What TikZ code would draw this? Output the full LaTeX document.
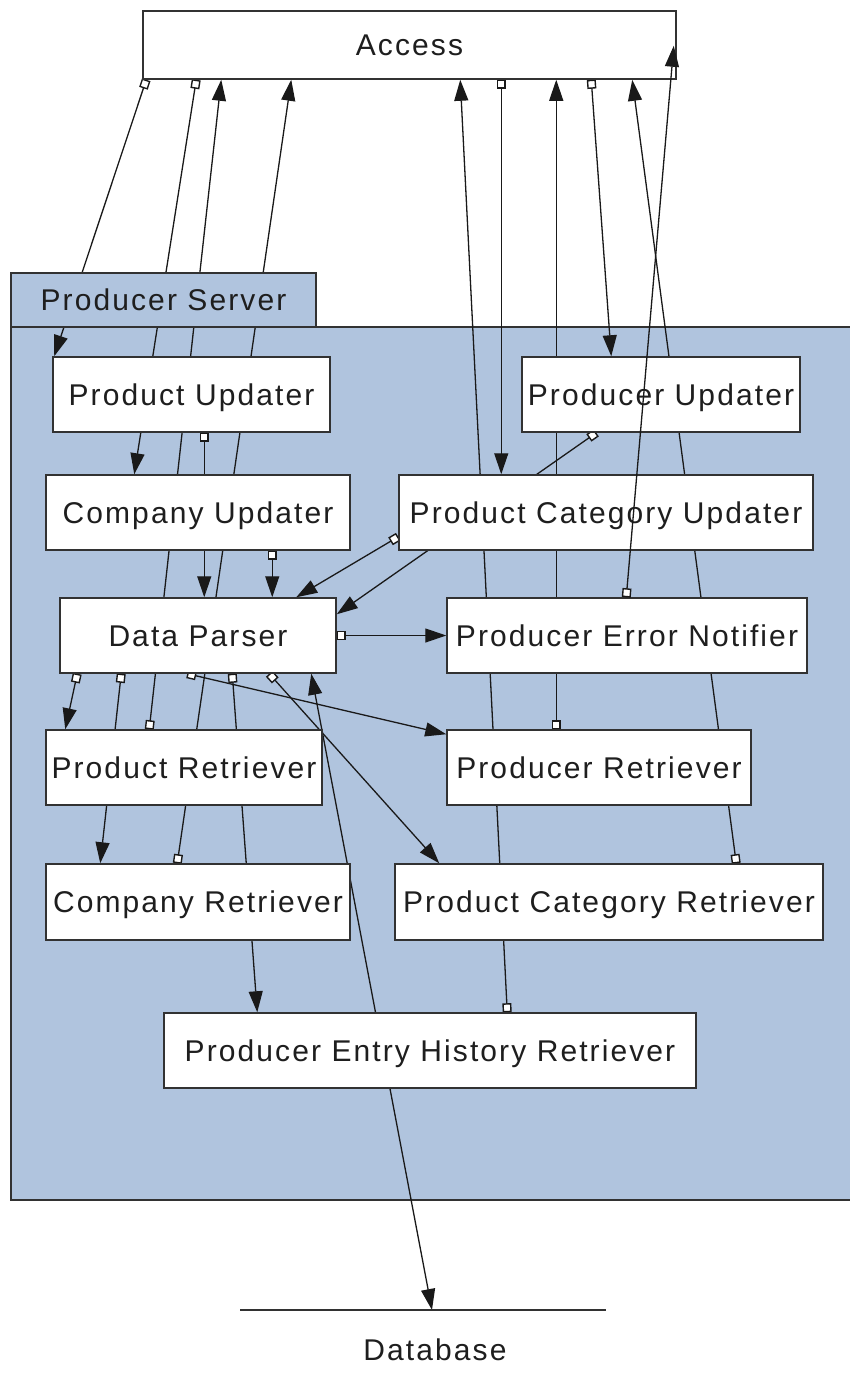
\documentclass[tikz,border=0pt]{standalone}
\usepackage{fontspec}
\setmainfont{Liberation Sans}[LetterSpace=7]
\usetikzlibrary{arrows.meta,calc}
\definecolor{psblue}{RGB}{176,196,222}
\definecolor{bordc}{RGB}{50,50,50}
\definecolor{edgec}{RGB}{25,25,25}
\definecolor{txtc}{RGB}{30,30,30}
\pgfdeclarelayer{bg}\pgfdeclarelayer{edges}\pgfdeclarelayer{fg}
\pgfsetlayers{bg,edges,main,fg}
\tikzset{
  box/.style={draw=bordc, line width=1.5pt, fill=white, minimum height=75pt,
    inner sep=0pt, text height=21.5pt, text depth=0pt, text=txtc,
    font=\fontsize{30}{36}\selectfont},
  lbl/.style={inner sep=0pt, text height=21.5pt, text depth=0pt, text=txtc,
    font=\fontsize{30}{36}\selectfont},
  flow/.style={draw=edgec, line width=1.3pt,
    arrows={Square[fill=white,length=9pt,width=9pt,line width=1.4pt]-Triangle[length=21pt,width=14pt]}},
  both/.style={draw=edgec, line width=1.3pt,
    arrows={Triangle[length=21pt,width=14pt]-Triangle[length=21pt,width=14pt]}}
}
\begin{document}
\begin{tikzpicture}[x=1pt,y=-1pt]
\useasboundingbox (0,0) rectangle (850,1387);
% container
\begin{pgfonlayer}{bg}
\fill[white] (0,0) rectangle (850,1387);
\draw[draw=bordc, line width=1.5pt, fill=psblue] (11,327) rectangle (870,1200);
\end{pgfonlayer}
\node[box, fill=psblue, minimum width=305pt, minimum height=54pt] (PStab) at (163.5,300) {Producer Server};
% nodes
\node[box, minimum width=533pt, minimum height=68pt] (Access) at (409.5,45) {Access};
\node[box, minimum width=277pt] (PU1) at (191.5,394.5) {Product Updater};
\node[box, minimum width=278pt] (PU2) at (661,394.5) {Producer Updater};
\node[box, minimum width=304pt] (CU) at (198,512.5) {Company Updater};
\node[box, minimum width=414pt] (PCU) at (606,512.5) {Product Category Updater};
\node[box, minimum width=276pt] (DP) at (198,635.5) {Data Parser};
\node[box, minimum width=360pt] (PEN) at (627,635.5) {Producer Error Notifier};
\node[box, minimum width=276pt] (PR1) at (184,767.5) {Product Retriever};
\node[box, minimum width=304pt] (PR2) at (599,767.5) {Producer Retriever};
\node[box, minimum width=304pt, minimum height=76pt] (CR) at (198,902) {Company Retriever};
\node[box, minimum width=428pt, minimum height=76pt] (PCR) at (609,902) {Product Category Retriever};
\node[box, minimum width=532pt] (PEHR) at (430,1050.5) {Producer Entry History Retriever};
% database store
\coordinate (DBL) at (240,1310);
\coordinate (DBR) at (606,1310);
\coordinate (DBin) at (432,1310);
\draw[draw=bordc, line width=1.5pt] (DBL) -- (DBR);
\node[lbl] (DBtext) at (435,1350) {Database};
% connectors
\begin{pgfonlayer}{edges}
\draw[flow] ($(Access.south west)+(4,0)$) -- ($(PU1.north west)+(2,0)$);
\draw[flow] ($(Access.south west)+(54,0)$) -- ($(CU.north west)+(89,0)$);
\draw[flow] ($(PR1.north west)+(104,0)$) -- ($(Access.south west)+(79,0)$);
\draw[flow] ($(CR.north west)+(132,0)$) -- ($(Access.south west)+(149,0)$);
\draw[flow] ($(PU1.south west)+(152,0)$) -- ($(DP.north west)+(145,0)$);
\draw[flow] ($(CU.south west)+(227,0)$) -- ($(DP.north west)+(213,0)$);
\draw[flow] ($(PCU.south west)+(0,-14)$) -- ($(DP.north west)+(237,0)$);
\draw[flow] ($(PU2.south west)+(75,0)$) -- ($(DP.north east)+(0,17)$);
\draw[flow] (DP.east) -- (PEN.west);
\draw[flow] ($(Access.south west)+(359,0)$) -- ($(PCU.north west)+(103,0)$);
\draw[flow] ($(PR2.north west)+(110,0)$) -- ($(Access.south west)+(414,0)$);
\draw[flow] ($(Access.south west)+(449,0)$) -- ($(PU2.north west)+(90,0)$);
\draw[flow] ($(PCR.north west)+(342,0)$) -- ($(Access.south west)+(490,0)$);
\draw[flow] ($(PEHR.north west)+(344,0)$) -- ($(Access.south west)+(318,0)$);
\draw[flow] ($(DP.south west)+(18,0)$) -- ($(PR1.north west)+(20,0)$);
\draw[flow] ($(DP.south west)+(62,0)$) -- ($(CR.north west)+(55,0)$);
\draw[flow] ($(DP.south west)+(128,0)$) -- ($(PR2.north west)+(0,5)$);
\draw[flow] ($(DP.south west)+(173,0)$) -- ($(PEHR.north west)+(94,0)$);
\draw[flow] ($(DP.south west)+(210,0)$) -- ($(PCR.north west)+(45,0)$);
\draw[both] (DBin) -- ($(DP.south west)+(252,0)$);
\end{pgfonlayer}
\begin{pgfonlayer}{fg}
\draw[flow] ($(PEN.north west)+(180,0)$) -- ($(Access.south east)+(-3,-34)$);
\end{pgfonlayer}
\end{tikzpicture}
\end{document}
